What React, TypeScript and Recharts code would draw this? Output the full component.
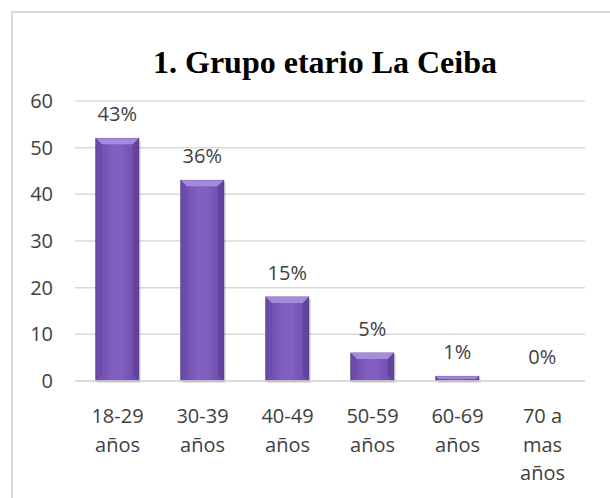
import React from "react";
import { BarChart, Bar, XAxis, YAxis, CartesianGrid, LabelList } from "recharts";

const categories = ["18-29 años", "30-39 años", "40-49 años", "50-59 años", "60-69 años", "70 a mas años"];
const counts = [52, 43, 18, 6, 1, 0];
const percentLabels = ["43%", "36%", "15%", "5%", "1%", "0%"];
const yTicks = [0, 10, 20, 30, 40, 50, 60];
const title = "1. Grupo etario La Ceiba";

const data = categories.map((c, i) => ({ name: c, value: counts[i], pct: percentLabels[i] }));

const FONT = "'Open Sans', sans-serif";
const TEXT = "#404040";

function wrap(label: string, maxChars: number): string[] {
  const words = label.split(" ");
  const lines: string[] = [];
  let cur = "";
  for (const w of words) {
    const next = cur ? cur + " " + w : w;
    if (next.length > maxChars && cur) {
      lines.push(cur);
      cur = w;
    } else {
      cur = next;
    }
  }
  if (cur) lines.push(cur);
  return lines;
}

const XTick = (props: any) => {
  const { x, y, payload } = props;
  const lines = wrap(payload.value, 5);
  return (
    <g>
      {lines.map((l, i) => (
        <text key={i} x={x} y={y + 34 + i * 28.5} textAnchor="middle" fill={TEXT} fontSize={20} fontFamily={FONT}>
          {l}
        </text>
      ))}
    </g>
  );
};

const YTick = (props: any) => {
  const { x, y, payload } = props;
  return (
    <text x={x - 14} y={y + 7} textAnchor="end" fill={TEXT} fontSize={20} fontFamily={FONT}>
      {payload.value}
    </text>
  );
};

const BevelBar = (props: any) => {
  const { x, y, width, height } = props;
  if (!height || height <= 0) return null;
  const b = Math.min(6, height / 2);
  return (
    <g>
      <rect x={x + 2} y={y + 2} width={width} height={height} fill="rgba(0,0,0,0.12)" />
      <rect x={x} y={y} width={width} height={height} fill="url(#barGrad)" stroke="#4b3280" strokeWidth={0.8} />
      <polygon points={`${x},${y} ${x + width},${y} ${x + width - b},${y + b} ${x + b},${y + b}`} fill="#a68add" />
      <polygon points={`${x},${y} ${x + b},${y + b} ${x + b},${y + height - b} ${x},${y + height}`} fill="#6a4aa6" opacity={0.6} />
      <polygon points={`${x + width},${y} ${x + width - b},${y + b} ${x + width - b},${y + height - b} ${x + width},${y + height}`} fill="#5a3c94" opacity={0.6} />
    </g>
  );
};

const PctLabel = (props: any) => {
  const { x, y, width, index } = props;
  return (
    <text x={x + width / 2} y={y - 17} textAnchor="middle" fill={TEXT} fontSize={20} fontFamily={FONT}>
      {percentLabels[index]}
    </text>
  );
};

export default function App() {
  return (
    <div style={{ position: "absolute", left: 0, top: 0, width: 610, height: 498, background: "#fff", overflow: "hidden" }}>
      <div
        style={{
          position: "absolute",
          left: 11,
          top: 11,
          width: 620,
          height: 520,
          border: "2px solid #d9d9d9",
          boxSizing: "border-box",
        }}
      />
      <div
        style={{
          position: "absolute",
          left: 0,
          width: 650,
          top: 42,
          textAlign: "center",
          fontFamily: "'Liberation Serif', 'Times New Roman', serif",
          fontWeight: "bold",
          fontSize: 32,
          color: "#000",
          lineHeight: "40px",
        }}
      >
        {title}
      </div>
      <div style={{ position: "absolute", left: 0, top: 0 }}>
        <BarChart width={610} height={498} data={data} margin={{ top: 101, right: 25, bottom: 0, left: 0 }} barCategoryGap="24.5%">
          <defs>
            <linearGradient id="barGrad" x1="0" y1="0" x2="1" y2="0">
              <stop offset="0%" stopColor="#6b4aa8" />
              <stop offset="40%" stopColor="#8060c0" />
              <stop offset="60%" stopColor="#8060c0" />
              <stop offset="100%" stopColor="#6b4aa8" />
            </linearGradient>
          </defs>
          <CartesianGrid vertical={false} stroke="#d9d9d9" strokeWidth={1.5} />
          <XAxis dataKey="name" height={117} axisLine={{ stroke: "#d9d9d9", strokeWidth: 1.5 }} tickLine={false} tick={<XTick />} interval={0} />
          <YAxis width={75} domain={[0, 60]} ticks={yTicks} axisLine={false} tickLine={false} tick={<YTick />} />
          <Bar dataKey="value" isAnimationActive={false} shape={<BevelBar />}>
            <LabelList dataKey="pct" content={<PctLabel />} />
          </Bar>
        </BarChart>
      </div>
    </div>
  );
}
